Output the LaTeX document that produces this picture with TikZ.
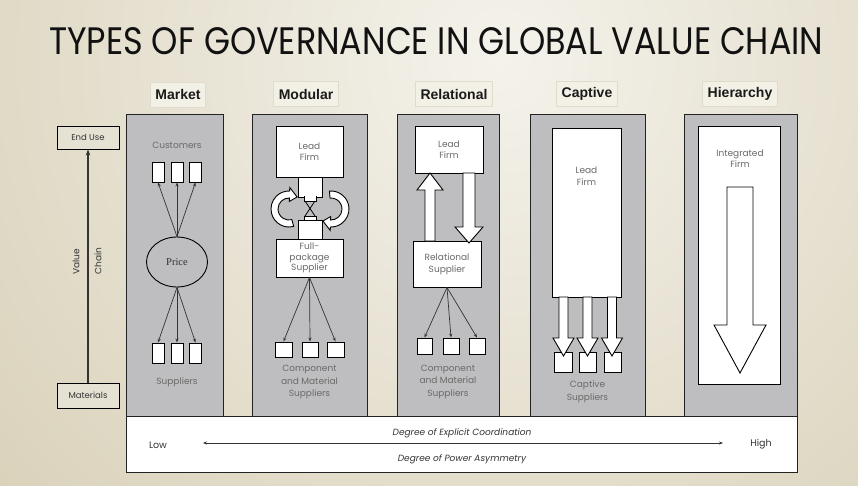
\documentclass[tikz,border=0pt]{standalone}
\usepackage{fontspec}
\usepackage{graphicx}
\usetikzlibrary{arrows.meta,shapes.geometric}
\newfontfamily\cg{Poppins}
\newfontfamily\hd{Liberation Sans}
\newfontfamily\sr{Liberation Serif}
\definecolor{bgl}{HTML}{F4F2EB}
\definecolor{bgd}{HTML}{D6CDB3}
\definecolor{colg}{HTML}{BEBEC0}
\definecolor{linec}{HTML}{222222}
\definecolor{lblc}{HTML}{6A6A6A}
\definecolor{hdrc}{HTML}{1A1A1A}
\definecolor{hdrf}{HTML}{F3F0E6}
\definecolor{hdrd}{HTML}{E0DCCD}
\definecolor{arrc}{HTML}{333333}
\definecolor{sidef}{HTML}{E6E2D3}
\definecolor{sidetc}{HTML}{333333}
\definecolor{titc}{HTML}{111111}
\definecolor{pricec}{HTML}{333333}
\newcommand{\blockarrow}[6]{%
  \draw[blk] ({#1-#5},#2) -- ({#1-#5},#3) -- ({#1-#6},#3) -- (#1,#4) -- ({#1+#6},#3) -- ({#1+#5},#3) -- ({#1+#5},#2) -- cycle;}
\newcommand{\cyclearrow}[4]{%
  \begin{scope}[shift={(#1,#2)}]
  \draw[blk] (#3:18pt) arc[start angle=#3, end angle=#4, radius=18pt] -- (#4:21.5pt) -- ({#4-32}:14.5pt) -- (#4:7.5pt) -- (#4:11pt) arc[start angle=#4, end angle=#3, radius=11pt] -- cycle;
  \end{scope}}
\begin{document}
\begin{tikzpicture}[x=1pt,y=1pt,
  col/.style={draw=linec, fill=colg, line width=1pt},
  wbox/.style={draw=black, fill=white, line width=0.9pt, inner sep=0pt},
  blk/.style={draw=black, fill=white, line width=0.9pt, line join=miter},
  lbl/.style={font=\cg\fontsize{9}{11.5}\selectfont, text=lblc, align=center, inner sep=0pt},
  hdr/.style={font=\hd\bfseries\fontsize{14}{16}\selectfont, text=hdrc, fill=hdrf, draw=hdrd, line width=0.6pt, inner xsep=5pt, minimum height=25pt},
  thinarr/.style={draw=arrc, line width=0.7pt, -{Stealth[length=4pt,width=3pt]}},
  side/.style={draw=black, fill=sidef, line width=0.9pt, minimum width=62pt, inner sep=0pt, font=\cg\fontsize{8.5}{10}\selectfont, text=sidetc},
  bottxt/.style={font=\cg\itshape\fontsize{9}{11}\selectfont, text=arrc, inner sep=0pt}
]
\useasboundingbox (0,0) rectangle (858,-486);
\begin{scope}
  \clip (0,0) rectangle (858,-486);
  \shade[inner color=bgl, outer color=bgd] (500,-60) circle (760pt);
\end{scope}

% title
\node[anchor=base west, inner sep=0pt, text=titc] (title) at (49,-55)
  {\resizebox{774pt}{27pt}{\cg TYPES OF GOVERNANCE IN GLOBAL VALUE CHAIN}};

% headers
\node[hdr] (hmk) at (178,-94.5) {Market};
\node[hdr] (hmo) at (306,-94) {Modular};
\node[hdr] (hre) at (454,-94) {Relational};
\node[hdr] (hca) at (587,-94) {Captive};
\node[hdr] (hhi) at (740,-94) {Hierarchy};

% columns
\draw[col] (126,-115) rectangle (223,-416);
\draw[col] (252,-115) rectangle (367,-416);
\draw[col] (397,-115) rectangle (499,-416);
\draw[col] (530,-115) rectangle (645,-416);
\draw[col] (684,-115) rectangle (797,-416);

% bottom box
\draw[draw=linec, fill=white, line width=1pt] (126,-416) rectangle (797,-472);
\node[bottxt, font=\cg\fontsize{9.5}{11}\selectfont] (low) at (158,-445) {Low};
\node[bottxt, font=\cg\fontsize{9.5}{11}\selectfont] (high) at (761,-444) {High};
\coordinate (lowend) at (203,-443);
\coordinate (highend) at (723,-443);
\draw[draw=arrc, line width=0.8pt, {Stealth[length=4pt,width=3pt]}-{Stealth[length=4pt,width=3pt]}] (lowend) -- (highend);
\node[bottxt] (dec) at (462,-433) {Degree of Explicit Coordination};
\node[bottxt] (dpa) at (462,-459) {Degree of Power Asymmetry};

% left value chain
\node[side, minimum height=23pt] (eu) at (88,-137.5) {End Use};
\node[side, minimum height=25pt] (mat) at (88,-395.5) {Materials};
\draw[draw=arrc, line width=1.4pt, -{Stealth[length=6pt,width=4.5pt]}] (mat.north) -- (eu.south);
\node[rotate=90, font=\cg\fontsize{9}{11}\selectfont, text=sidetc, inner sep=0pt] (val) at (76,-262) {Value};
\node[rotate=90, font=\cg\fontsize{9}{11}\selectfont, text=sidetc, inner sep=0pt] (chn) at (98,-261) {Chain};

% Market
\node[lbl] (cust) at (177,-145) {Customers};
\node[wbox, minimum width=12pt, minimum height=20pt] (c1) at (158,-172) {};
\node[wbox, minimum width=12pt, minimum height=20pt] (c2) at (177,-172) {};
\node[wbox, minimum width=12pt, minimum height=20pt] (c3) at (195.5,-172) {};
\node[ellipse, draw=black, fill=colg, line width=0.9pt, minimum width=61pt, minimum height=50pt, inner sep=0pt, font=\sr\fontsize{10.5}{12}\selectfont, text=pricec] (price) at (177,-262) {Price};
\node[wbox, minimum width=12pt, minimum height=20pt] (s1) at (158,-353) {};
\node[wbox, minimum width=12pt, minimum height=20pt] (s2) at (177,-353) {};
\node[wbox, minimum width=12pt, minimum height=20pt] (s3) at (195.5,-353) {};
\node[lbl] (supp) at (177,-382) {Suppliers};
\foreach \n in {c1,c2,c3} \draw[thinarr] (price.north) -- (\n.south);
\foreach \n in {s1,s2,s3} \draw[thinarr] (price.south) -- (\n.north);

% Modular
\cyclearrow{289}{-209}{285}{88}
\cyclearrow{331}{-209}{95}{-92}
\node[wbox, minimum width=67pt, minimum height=51pt, lbl, text=lblc] (lf2) at (309.5,-151.5) {Lead\\Firm};
\node[wbox, minimum width=24pt, minimum height=20pt] (uc) at (310,-187) {};
\node[wbox, minimum width=24pt, minimum height=19pt] (lc) at (310,-229.5) {};
\draw[blk] (304,-196.5) -- (304,-201) -- (316,-201) -- (316,-196.5);
\draw[blk] (304,-220) -- (304,-216) -- (316,-216) -- (316,-220);
\draw[draw=black, line width=0.8pt] (305,-201) -- (315,-216) (315,-201) -- (305,-216);
\node[wbox, minimum width=67pt, minimum height=38pt, lbl, text=lblc, font=\cg\fontsize{9}{10.5}\selectfont] (fps) at (309.5,-258) {Full-\\package\\Supplier};
\node[wbox, minimum width=17pt, minimum height=15pt] (m1) at (283.5,-349.5) {};
\node[wbox, minimum width=16pt, minimum height=15pt] (m2) at (310,-349.5) {};
\node[wbox, minimum width=17pt, minimum height=15pt] (m3) at (335.5,-349.5) {};
\foreach \n in {m1,m2,m3} \draw[thinarr] (fps.south) -- (\n.north);
\node[lbl, font=\cg\fontsize{9}{12.5}\selectfont] (cms2) at (309.5,-382) {Component\\and Material\\Suppliers};

% Relational
\node[wbox, minimum width=68pt, minimum height=47pt, lbl, text=lblc] (lf3) at (449,-149.5) {Lead\\Firm};
\node[wbox, minimum width=68pt, minimum height=46pt, lbl, text=lblc] (rs) at (447,-264) {Relational\\Supplier};
\blockarrow{430}{-241}{-190}{-173}{5}{13}
\blockarrow{469}{-173}{-227}{-243}{6}{14}
\node[wbox, minimum width=15pt, minimum height=16pt] (r1) at (424.5,-346) {};
\node[wbox, minimum width=16pt, minimum height=16pt] (r2) at (451,-346) {};
\node[wbox, minimum width=16pt, minimum height=16pt] (r3) at (477,-346) {};
\foreach \n in {r1,r2,r3} \draw[thinarr] (rs.south) -- (\n.north);
\node[lbl, font=\cg\fontsize{9}{12.5}\selectfont] (cms3) at (448,-381.5) {Component\\and Material\\Suppliers};

% Captive
\node[wbox, minimum width=69pt, minimum height=169pt] (lf4) at (586.5,-212.5) {};
\node[lbl] (lf4t) at (586.5,-176) {Lead\\Firm};
\node[wbox, minimum width=18pt, minimum height=20pt] (k1) at (563,-362) {};
\node[wbox, minimum width=17pt, minimum height=20pt] (k2) at (587.5,-362) {};
\node[wbox, minimum width=17pt, minimum height=20pt] (k3) at (612.5,-362) {};
\blockarrow{563.5}{-297}{-338}{-356}{4.5}{10.5}
\blockarrow{587.5}{-297}{-338}{-356}{4.5}{10.5}
\blockarrow{612}{-297}{-338}{-356}{4.5}{10.5}
\node[lbl, font=\cg\fontsize{9}{12.5}\selectfont] (capt) at (587.5,-391.5) {Captive\\Suppliers};

% Hierarchy
\node[wbox, minimum width=82pt, minimum height=258pt] (intf) at (739,-255) {};
\node[lbl] (intft) at (740,-158.5) {Integrated\\Firm};
\blockarrow{740}{-187}{-325}{-373}{13}{26}
\end{tikzpicture}
\end{document}
